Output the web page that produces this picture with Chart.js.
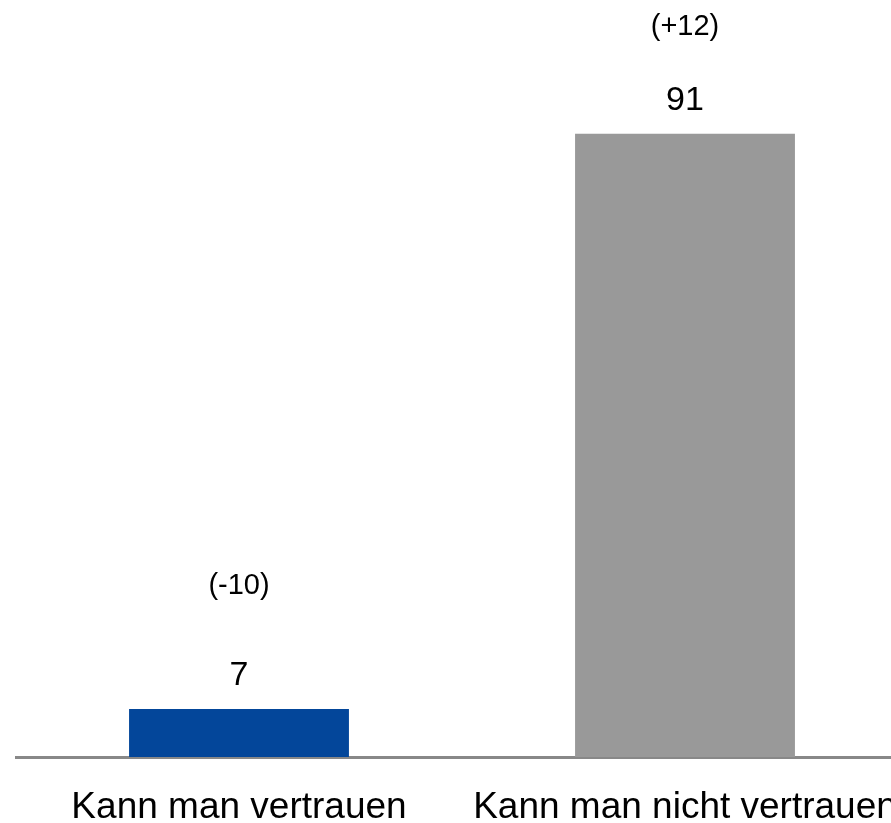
<!DOCTYPE html>
<html>
<head>
<meta charset="utf-8">
<script src="https://cdn.jsdelivr.net/npm/chart.js@4"></script>
<style>
  html, body { margin: 0; padding: 0; background: #fff; overflow: hidden; }
  #wrap { width: 940px; height: 823px; position: relative; }
</style>
</head>
<body>
<div id="wrap"><canvas id="myBarChart"></canvas></div>
<script>
// Chart data
const categories = ['Kann man vertrauen', 'Kann man nicht vertrauen'];
const values = [7, 91];
const changes = [-10, 12];
const barColors = ['#03469A', '#999999'];

// Draw the value and the change above each bar
const barLabels = {
  id: 'barLabels',
  afterDatasetsDraw(chart) {
    const ctx = chart.ctx;
    const meta = chart.getDatasetMeta(0);
    ctx.save();
    ctx.fillStyle = '#000';
    ctx.textAlign = 'center';
    ctx.textBaseline = 'middle';
    meta.data.forEach((bar, i) => {
      ctx.font = '34px "Liberation Sans", Arial, sans-serif';
      ctx.fillText(String(values[i]), bar.x, bar.y - 33);
      const sign = changes[i] > 0 ? '+' : '';
      ctx.font = '29px "Liberation Sans", Arial, sans-serif';
      const cy = Math.max(bar.y - 123, 27);
      ctx.fillText('(' + sign + changes[i] + ')', bar.x, cy);
    });
    ctx.restore();
  }
};

const ctx = document.getElementById('myBarChart').getContext('2d');
const myChart = new Chart(ctx, {
  type: 'bar',
  data: {
    labels: categories,
    datasets: [{
      data: values,
      backgroundColor: barColors,
      categoryPercentage: 1,
      barPercentage: 0.493
    }]
  },
  options: {
    responsive: true,
    maintainAspectRatio: false,
    animation: false,
    layout: {
      padding: { left: 16, right: 32, top: 72, bottom: 0 }
    },
    plugins: {
      legend: { display: false },
      tooltip: { enabled: false }
    },
    scales: {
      x: {
        grid: { display: false, drawTicks: false },
        border: { display: true, color: '#888888', width: 3 },
        ticks: {
          color: '#000',
          padding: 29,
          font: { family: '"Liberation Sans", Arial, sans-serif', size: 37 }
        },
        afterFit(scale) {
          scale.height = 66; // axis band below the baseline
        }
      },
      y: {
        display: false,
        min: 0,
        max: 100
      }
    }
  },
  plugins: [barLabels]
});
</script>
</body>
</html>
